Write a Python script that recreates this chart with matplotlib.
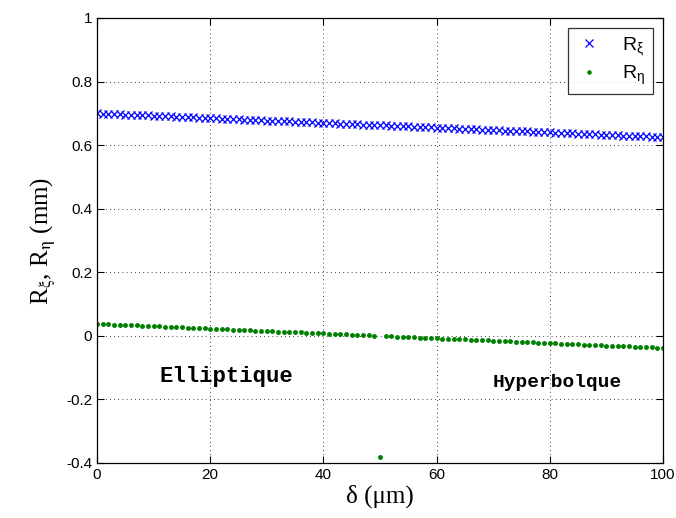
import matplotlib
matplotlib.use("Agg")
import matplotlib.pyplot as plt

delta = list(range(0, 101))

r_xi = [0.7000, 0.6993, 0.6985, 0.6978, 0.6970, 0.6963, 0.6955, 0.6948, 0.6940, 0.6933, 0.6925,
        0.6918, 0.6910, 0.6903, 0.6895, 0.6888, 0.6880, 0.6873, 0.6865, 0.6858, 0.6850,
        0.6843, 0.6835, 0.6828, 0.6820, 0.6813, 0.6805, 0.6798, 0.6790, 0.6783, 0.6775,
        0.6768, 0.6760, 0.6753, 0.6745, 0.6738, 0.6730, 0.6723, 0.6715, 0.6708, 0.6700,
        0.6693, 0.6685, 0.6678, 0.6670, 0.6663, 0.6655, 0.6648, 0.6640, 0.6633, 0.6625,
        0.6618, 0.6610, 0.6603, 0.6595, 0.6588, 0.6580, 0.6573, 0.6565, 0.6558, 0.6550,
        0.6543, 0.6535, 0.6528, 0.6520, 0.6513, 0.6505, 0.6498, 0.6490, 0.6483, 0.6475,
        0.6468, 0.6460, 0.6453, 0.6445, 0.6438, 0.6430, 0.6423, 0.6415, 0.6408, 0.6400,
        0.6393, 0.6385, 0.6378, 0.6370, 0.6363, 0.6355, 0.6348, 0.6340, 0.6333, 0.6325,
        0.6318, 0.6310, 0.6303, 0.6295, 0.6288, 0.6280, 0.6273, 0.6265, 0.6258, 0.6250]

r_eta = [0.0380, 0.0372, 0.0365, 0.0357, 0.0350, 0.0342, 0.0334, 0.0327, 0.0319, 0.0312, 0.0304,
         0.0296, 0.0289, 0.0281, 0.0274, 0.0266, 0.0258, 0.0251, 0.0243, 0.0236, 0.0228,
         0.0220, 0.0213, 0.0205, 0.0198, 0.0190, 0.0182, 0.0175, 0.0167, 0.0160, 0.0152,
         0.0144, 0.0137, 0.0129, 0.0122, 0.0114, 0.0106, 0.0099, 0.0091, 0.0084, 0.0076,
         0.0068, 0.0061, 0.0053, 0.0046, 0.0038, 0.0030, 0.0023, 0.0015, 0.0008, -0.3800,
         -0.0008, -0.0015, -0.0023, -0.0030, -0.0038, -0.0046, -0.0053, -0.0061, -0.0068, -0.0076,
         -0.0084, -0.0091, -0.0099, -0.0106, -0.0114, -0.0122, -0.0129, -0.0137, -0.0144, -0.0152,
         -0.0160, -0.0167, -0.0175, -0.0182, -0.0190, -0.0198, -0.0205, -0.0213, -0.0220, -0.0228,
         -0.0236, -0.0243, -0.0251, -0.0258, -0.0266, -0.0274, -0.0281, -0.0289, -0.0296, -0.0304,
         -0.0312, -0.0319, -0.0327, -0.0334, -0.0342, -0.0350, -0.0357, -0.0365, -0.0372, -0.0380]

x_ticks = [0, 20, 40, 60, 80, 100]
y_ticks = [-0.4, -0.2, 0, 0.2, 0.4, 0.6, 0.8, 1]
y_tick_labels = ["-0.4", "-0.2", "0", "0.2", "0.4", "0.6", "0.8", "1"]

plt.rcParams['font.family'] = ['Liberation Sans', 'DejaVu Sans']
plt.rcParams['mathtext.fontset'] = 'custom'
plt.rcParams['mathtext.rm'] = 'Liberation Sans'
plt.rcParams['mathtext.it'] = 'Liberation Sans'

fig = plt.figure(figsize=(6.76, 5.18), dpi=100)
ax = fig.add_axes([97/676, 1 - 463/518, 566/676, 445/518])

ax.plot(delta, r_xi, linestyle='none', marker='x', color=(0, 0, 1),
        markersize=6, markeredgewidth=0.9, label=r'R$_\xi$')
ax.plot(delta, r_eta, linestyle='none', marker='.', color=(0, 0.5, 0),
        markersize=5, label=r'R$_\eta$')

ax.set_xlim(0, 100)
ax.set_ylim(-0.4, 1)
ax.set_xticks(x_ticks)
ax.set_yticks(y_ticks)
ax.set_yticklabels(y_tick_labels)
ax.tick_params(direction='in', top=True, right=True, labelsize=11, length=5, width=0.8)
ax.grid(True, linestyle=(0, (1, 4)), color='black', linewidth=0.6)
for s in ax.spines.values():
    s.set_linewidth(0.9)

ax.set_xlabel('δ (μm)', fontsize=18, family='Liberation Serif', labelpad=2)
ax.set_ylabel(r'R$_{\mathrm{\xi}}$, R$_{\mathrm{\eta}}$ (mm)', fontsize=18,
              family='Liberation Serif', math_fontfamily='stix', labelpad=6)

ax.text(22.9, -0.129, 'Elliptique', family='Liberation Mono', weight='bold',
        fontsize=16, ha='center', va='center')
ax.text(81.4, -0.148, 'Hyperbolque', family='Liberation Mono', weight='bold',
        fontsize=14, ha='center', va='center')

leg = ax.legend(loc='upper right', fontsize=14, frameon=True, fancybox=False,
                edgecolor='black', borderaxespad=0.5, handletextpad=1.0,
                handlelength=1.4, labelspacing=0.3, borderpad=0.4, markerscale=0.9)
leg.get_frame().set_linewidth(0.9)

fig.savefig('out.png', dpi=100)
